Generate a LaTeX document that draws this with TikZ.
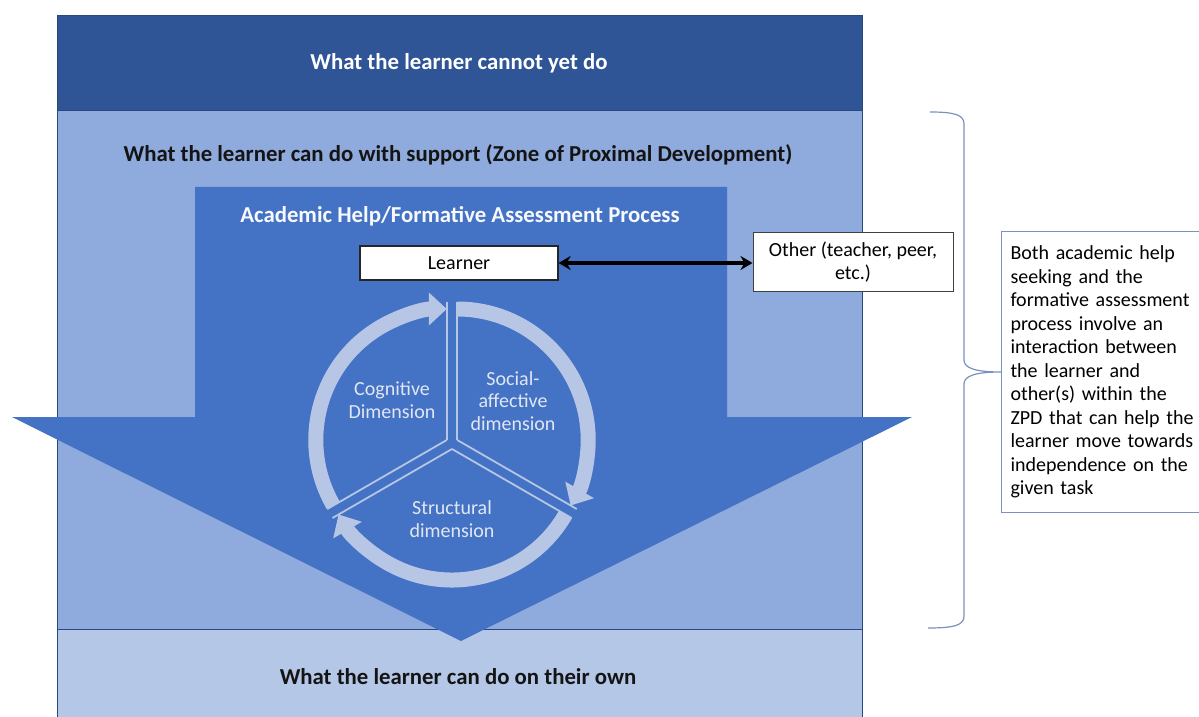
\documentclass[tikz,border=0pt]{standalone}
\usepackage{fontspec}
\setmainfont{Carlito}
\usepackage{xcolor}
\usetikzlibrary{positioning}
\usetikzlibrary{arrows.meta,calc}

\definecolor{bandtop}{RGB}{47,85,151}
\definecolor{bandmid}{RGB}{143,170,220}
\definecolor{bandlow}{RGB}{180,199,231}
\definecolor{arrowblue}{RGB}{68,114,196}
\definecolor{cyclelight}{RGB}{183,198,228}
\definecolor{cycletext}{RGB}{224,231,243}
\definecolor{notegray}{RGB}{122,146,190}

\begin{document}
\begin{tikzpicture} [
       x=1pt, y=1pt,
       band/.style={draw=bandtop!85!black, line width=0.8pt},
       heading/.style={font=\fontsize{22.8}{26}\selectfont\bfseries},
       box/.style={draw=black!85, fill=white, line width=1.2pt,
               minimum width=198pt, align=center,
               font=\fontsize{20}{22.5}\selectfont},
       note/.style={draw=notegray, fill=white, line width=1pt,
               text width=190pt, align=left, inner xsep=9pt, inner ysep=14.5pt,
               font=\fontsize{20}{23.5}\selectfont},
       dimtext/.style={text=cycletext, align=center,
               font=\fontsize{20}{22.5}\selectfont},
       cyc/.style={draw=cyclelight, line width=15pt,
               -{Triangle[length=18pt,width=32pt]}},
       spoke/.style={draw=cyclelight, line width=1.8pt},
       line/.style={draw, line width=3.6pt,
               {Stealth[length=12pt,width=14pt]}-{Stealth[length=12pt,width=14pt]}},
       brace/.style={draw=notegray, line width=1.2pt},
       ]
       \useasboundingbox (0,0) rectangle (1199,716);
       \fill[white] (0,0) rectangle (1199,716);

       % the three bands
       \path[band, fill=bandtop] (57,606) rectangle (862,701);
       \path[band, fill=bandmid] (57,87) rectangle (862,606);
       \path[band, fill=bandlow] (57,-5) rectangle (862,87);

       % big downward arrow
       \fill[arrowblue] (195,529) -- (727,529) -- (727,299) -- (912,299)
              -- (461,75) -- (12,299) -- (195,299) -- cycle;

       \node (cannot) [heading, text=white] at (459,653) {What the learner cannot yet do};
       \node (support) [heading, text=black!92] at (458,561) {What the learner can do with support (Zone of Proximal Development)};
       \node (process) [heading, text=white!96!arrowblue] at (460,500) {Academic Help/Formative Assessment Process};
       \node (own) [heading, text=black!92] at (458,39) {What the learner can do on their own};

       \node (learner) [box, minimum height=34pt] at (459,453) {Learner};
       \node (other) [box, minimum width=200pt, minimum height=59pt,
              draw=black!75, line width=1pt] at (853,454) {Other (teacher, peer,\\etc.)};
       \path[line] (learner.east) -- (learner.east -| other.west);

       % cycle of the three dimensions
       \coordinate (hub) at (452,273);
       \foreach \mid/\from/\to in {150/210/90, 30/90/-30, 270/-30/-150} {
              \coordinate (c) at ($(hub)+(\mid:6)$);
              \draw[spoke] (c) -- ++(\from:138);
              \draw[spoke] (c) -- ++(\to:138);
              \draw[cyc] ($(c)+(\from:131)$) arc[start angle=\from, end angle=\to, radius=131];
       }
       \node (cognitive) [dimtext] at (392,316) {Cognitive\\Dimension};
       \node (social) [dimtext] at (513,315) {Social-\\affective\\dimension};
       \node (structural) [dimtext] at (452,197) {Structural\\dimension};

       \node (remark) [note, anchor=west] at (1001,344) {Both academic help\\seeking and the\\formative assessment\\process involve an\\interaction between\\the learner and\\other(s) within the\\ZPD that can help the\\learner move towards\\independence on the\\given task};

       \coordinate (braceTop) at (930,604);
       \coordinate (braceLow) at (928,88);
       \draw[brace] (braceTop) .. controls (955,604) and (964,601) .. (964,592)
              -- (964,356) .. controls (964,348) and (975,344) .. (remark.west)
              .. controls (975,344) and (964,340) .. (964,332)
              -- (964,100) .. controls (964,91) and (955,88) .. (braceLow);
\end{tikzpicture}
\end{document}
